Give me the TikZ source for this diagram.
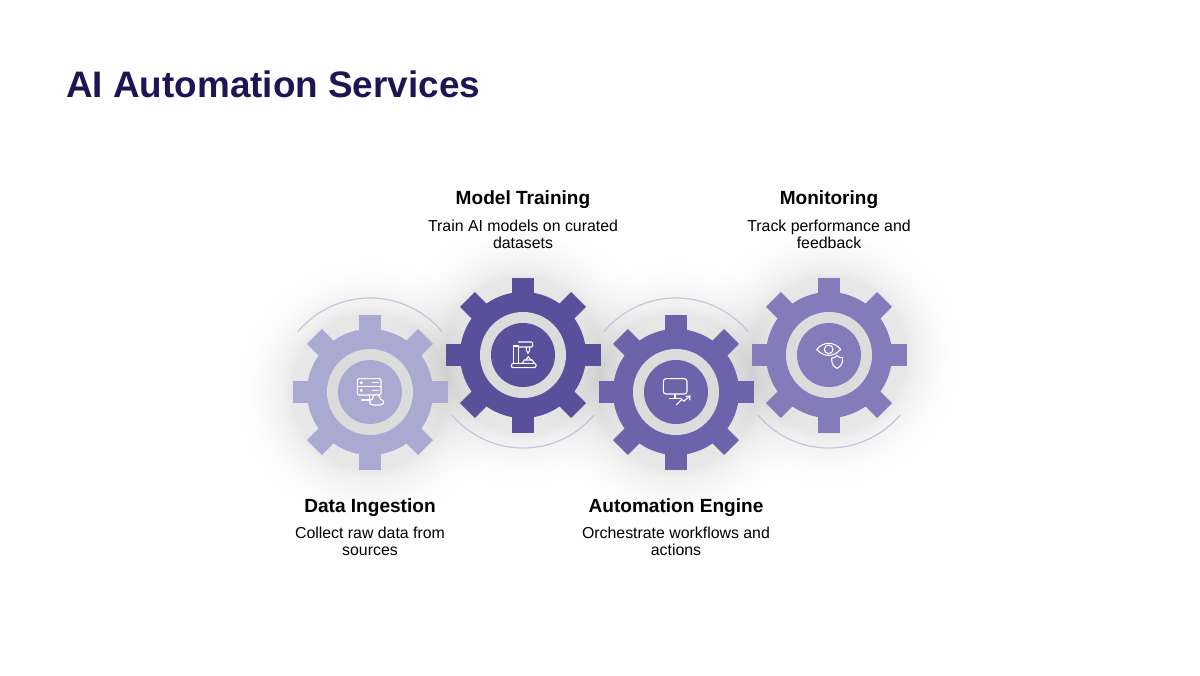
\documentclass[tikz,border=0pt]{standalone}
\usepackage{fontspec}
\setmainfont{Liberation Sans}
\definecolor{gA}{HTML}{AAA9D2}
\definecolor{gB}{HTML}{58509B}
\definecolor{gC}{HTML}{6C63AB}
\definecolor{gD}{HTML}{847CBA}
\definecolor{ringgray}{HTML}{DCDCDC}
\definecolor{arcline}{HTML}{C6C4D8}
\definecolor{titlenavy}{HTML}{1F1454}
\tikzset{
  headtext/.style={font=\fontsize{14.3}{16}\bfseries\selectfont, text=black, anchor=center, inner sep=0pt},
  desctext/.style={font=\fontsize{11.9}{12.75}\selectfont, text=black, align=center, anchor=center, inner sep=0pt},
  iconline/.style={draw=white, line width=0.8pt, line join=round, line cap=round},
  arcstyle/.style={draw=arcline, line width=0.9pt},
}
\newcommand{\softshadow}[2]{%
  \foreach \r in {78,79,80,81,82,83,84,85,86,88,90,92,94,96,98,100,103,106,109,112,116,120,125,130}{\fill[black,opacity=0.0034] (#1,#2) circle[radius=\r];}
}
\newcommand{\gearbody}[3]{%
  \begin{scope}[shift={(#1,#2)}]
    \foreach \a in {0,90,180,270}{
      \fill[#3,rotate=\a] (-10.7,50) rectangle (10.7,77.5);
    }
    \foreach \a in {45,135,225,315}{
      \fill[#3,rotate=\a] (-10.5,50) rectangle (10.5,78.5);
    }
    \fill[#3] (0,0) circle[radius=63];
    \fill[ringgray] (0,0) circle[radius=43];
    \fill[#3] (0,0) circle[radius=32];
  \end{scope}
}
\begin{document}
\begin{tikzpicture}[x=0.75pt,y=-0.75pt]
\useasboundingbox (0,0) rectangle (1200,675);
\fill[white] (0,0) rectangle (1200,675);

\node[font=\fontsize{27.65}{30}\bfseries\selectfont, text=titlenavy, anchor=base west, inner sep=0pt] (title) at (66,97) {AI Automation Services};

\softshadow{370}{392}
\softshadow{523}{355}
\softshadow{676}{392}
\softshadow{829}{355}

\draw[arcstyle] (370,392) ++(-140:94) arc[start angle=-140,end angle=-40,radius=94];
\draw[arcstyle] (523,355) ++(140:93) arc[start angle=140,end angle=40,radius=93];
\draw[arcstyle] (676,392) ++(-140:94) arc[start angle=-140,end angle=-40,radius=94];
\draw[arcstyle] (829,355) ++(140:93) arc[start angle=140,end angle=40,radius=93];

\gearbody{370}{392}{gA}
\gearbody{523}{355}{gB}
\gearbody{676}{392}{gC}
\gearbody{829}{355}{gD}

% icon 1: server and cloud
\begin{scope}[shift={(280,270)},x=0.25pt,y=-0.25pt]
  \draw[iconline,rounded corners=1pt] (232,326) rectangle (303,375);
  \draw[iconline] (232,350) -- (303,350);
  \draw[iconline] (278,338) -- (295,338) (278,361) -- (295,361);
  \draw[iconline] (244,338) circle[radius=3] (244,361) circle[radius=3];
  \draw[iconline] (268,375) -- (268,390) (245,390) -- (272,390);
  \draw[iconline,fill=gA] (279,405) .. controls (266,405) and (266,388) .. (277,388)
     .. controls (279,368) and (299,368) .. (301,388)
     .. controls (314,388) and (314,405) .. (301,405) -- cycle;
\end{scope}

% icon 2: machine
\begin{scope}[shift={(280,270)},x=0.25pt,y=-0.25pt]
  \draw[iconline,rounded corners=1pt] (694,280) rectangle (768,293);
  \draw[iconline] (700,280) -- (700,228) -- (715,228) (715,280) -- (715,228);
  \draw[iconline,rounded corners=1pt] (715,216) -- (758,216) -- (758,231) -- (715,231);
  \draw[iconline] (739,231) -- (739,241) -- (744,250) -- (749,241) -- (749,231);
  \draw[iconline] (727,280) -- (733,270) -- (757,270) -- (763,280);
  \draw[iconline] (737,270) -- (745,260) -- (753,270);
\end{scope}

% icon 3: monitor and trend
\begin{scope}[shift={(600,270)},x=0.25pt,y=-0.25pt]
  \draw[iconline,rounded corners=2pt] (190,326) rectangle (261,372);
  \draw[iconline] (225,372) -- (225,385) (208,385) -- (243,385);
  \draw[iconline] (229,404) -- (245,388) -- (251,394) -- (270,378);
  \draw[iconline] (258,379) -- (270,378) -- (269,390);
\end{scope}

% icon 4: eye and shield
\begin{scope}[shift={(600,270)},x=0.25pt,y=-0.25pt]
  \draw[iconline] (650,238) .. controls (670,214) and (702,214) .. (722,238)
     .. controls (702,262) and (670,262) .. (650,238) -- cycle;
  \draw[iconline] (686,238) circle[radius=13];
  \draw[iconline,fill=gD] (695,264) .. controls (703,264) and (708,261) .. (711,256)
     .. controls (714,261) and (720,264) .. (728,264)
     .. controls (729,280) and (722,290) .. (711,295)
     .. controls (700,290) and (694,280) .. (695,264) -- cycle;
\end{scope}

\node[headtext] (h2) at (523,200) {Model Training};
\node[desctext] (d2) at (523,234.5) {Train AI models on curated\\datasets};
\node[headtext] (h4) at (829,200) {Monitoring};
\node[desctext] (d4) at (829,234.5) {Track performance and\\feedback};
\node[headtext] (h1) at (370,507.5) {Data Ingestion};
\node[desctext] (d1) at (370,541) {Collect raw data from\\sources};
\node[headtext] (h3) at (676,507.5) {Automation Engine};
\node[desctext] (d3) at (676,541) {Orchestrate workflows and\\actions};
\end{tikzpicture}
\end{document}
